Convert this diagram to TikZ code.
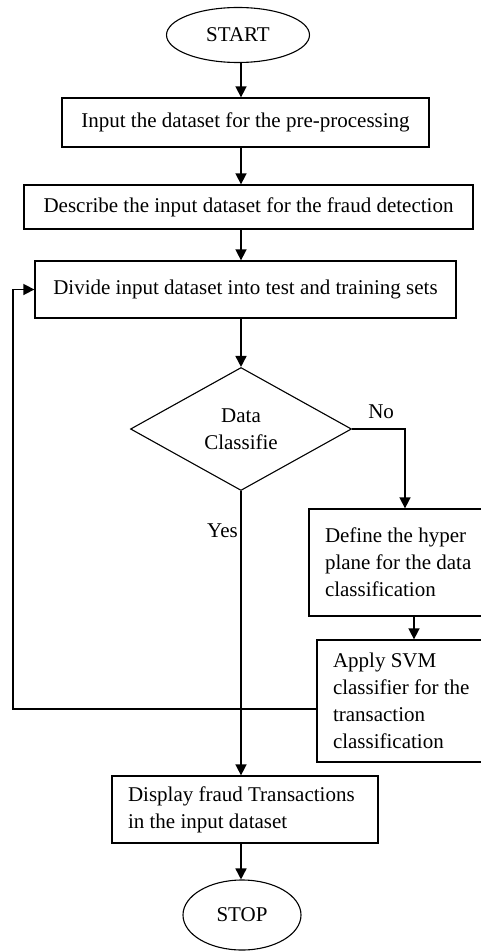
\documentclass[tikz,border=0pt]{standalone}
\usepackage{fontspec}
\setmainfont{Liberation Serif}
\usetikzlibrary{arrows.meta,shapes.geometric,positioning}

\begin{document}
\begin{tikzpicture}[x=1pt, y=-1pt,
    every node/.style={font=\fontsize{21}{27}\selectfont},
    box/.style={draw, line width=1.3pt, rectangle, inner sep=0pt, align=center},
    leftbox/.style={box, align=flush left, inner xsep=16pt},
    term/.style={draw, line width=1.1pt, ellipse, inner sep=0pt},
    decision/.style={draw, line width=1.1pt, diamond, inner sep=0pt, align=center},
    arr/.style={line width=1.6pt, -{Triangle[length=11pt,width=11pt]}},
    lbl/.style={inner sep=0pt}]
    \useasboundingbox (0,0) rectangle (481,952);

    % Main column
    \node[term, minimum width=143pt, minimum height=55pt] (start) at (238,35) {START};
    \node[box, minimum width=367pt, minimum height=49pt] (input) at (245.5,122.5) {Input the dataset for the pre-processing};
    \node[box, minimum width=449pt, minimum height=44pt] (describe) at (248.5,207) {Describe the input dataset for the fraud detection};
    \node[box, minimum width=421pt, minimum height=57pt] (divide) at (245.5,289.5) {Divide input dataset into test and training sets};
    \node[decision, minimum width=221pt, minimum height=123pt] (decide) at (241,429) {Data\\Classifie};

    % No branch
    \node[leftbox, text width=160pt, minimum height=107pt] (define) at (405,562.5) {Define the hyper\\plane for the data\\classification};
    \node[leftbox, text width=162pt, minimum height=122pt] (apply) at (414,701) {Apply SVM\\classifier for the\\transaction\\classification};

    % Output
    \node[leftbox, text width=234pt, minimum height=67pt] (display) at (245,809.5) {Display fraud Transactions\\in the input dataset};
    \node[term, minimum width=118pt, minimum height=70pt] (stop) at (242,915) {STOP};

    \coordinate (spine) at (241,0);
    \coordinate (loopx) at (13,0);

    % Connectors
    \draw[arr] (start.south -| spine) -- (input.north -| spine);
    \draw[arr] (input.south -| spine) -- (describe.north -| spine);
    \draw[arr] (describe.south -| spine) -- (divide.north -| spine);
    \draw[arr] (divide.south -| spine) -- (decide.north);
    \draw[arr] (decide.east) -| (define.north);
    \draw[arr] (define.south -| apply.north) -- (apply.north);
    \draw[arr] (decide.south) -- (display.north -| spine);
    \draw[arr] (display.south -| spine) -- (stop.north -| spine);
    \draw[arr] ([yshift=-8pt]apply.west) -| (loopx |- divide.west) -- (divide.west);

    % Branch labels
    \node[lbl, anchor=base west] (nolbl) at ([xshift=16pt, yshift=11pt]decide.east) {No};
    \node[lbl, anchor=base east] (yeslbl) at ([xshift=-3pt, yshift=-46pt]decide.south) {Yes};
\end{tikzpicture}
\end{document}
